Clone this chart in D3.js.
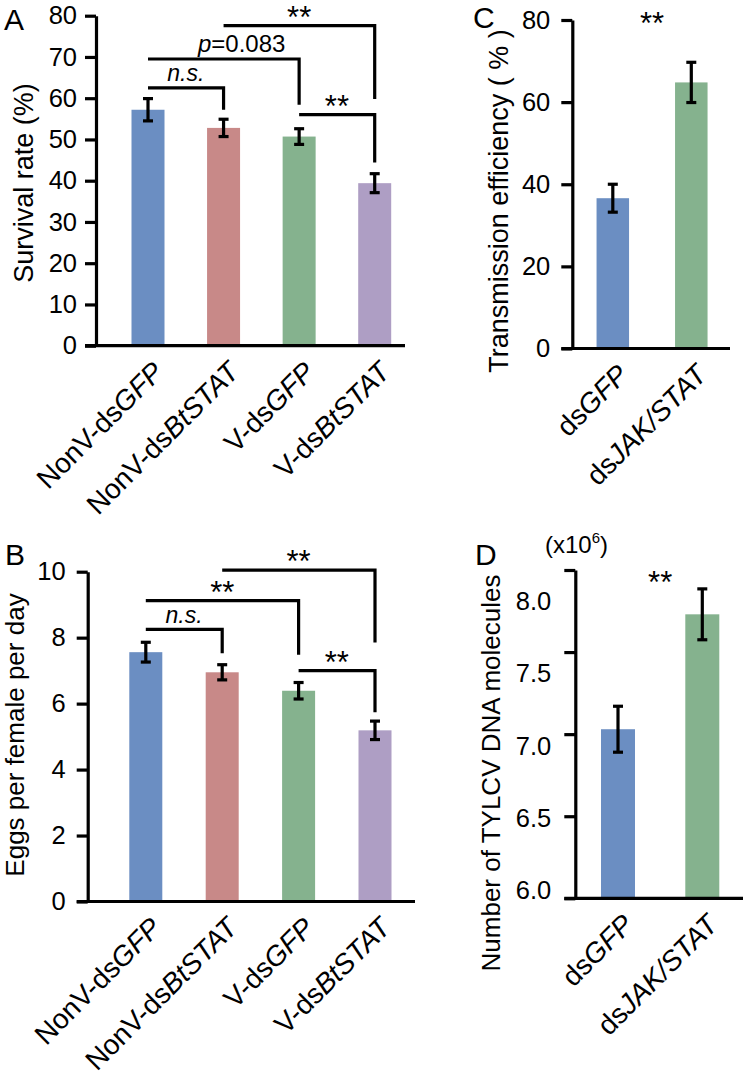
<!DOCTYPE html>
<html><head><meta charset="utf-8">
<script src="https://cdn.jsdelivr.net/npm/d3@7"></script>
<style>
body{margin:0;background:#fff}
svg{display:block}
text{font-family:"Liberation Sans",Arial,Helvetica,sans-serif;fill:#000}
</style>
</head><body>
<svg id="chart" width="748" height="1078"></svg>
<script>
// ---------- data ----------
const groupCats = ["NonV-dsGFP", "NonV-dsBtSTAT", "V-dsGFP", "V-dsBtSTAT"];
const survival = [57.2, 52.8, 50.7, 39.4];
const survivalErr = [2.7, 2.1, 1.9, 2.3];
const survivalTicks = [0, 10, 20, 30, 40, 50, 60, 70, 80];

const eggs = [7.56, 6.95, 6.39, 5.19];
const eggsErr = [0.30, 0.23, 0.25, 0.28];
const eggTicks = [0, 2, 4, 6, 8, 10];

const rnaiCats = ["dsGFP", "dsJAK/STAT"];
const transmission = [36.6, 64.8];
const transmissionErr = [3.4, 4.9];
const transTicks = [0, 20, 40, 60, 80];

const tylcv = [7.03, 7.73];
const tylcvErr = [0.14, 0.155];
const tylcvTicks = [6.0, 6.5, 7.0, 7.5, 8.0];

// brackets: [fromIndex, toIndex, level value, right-drop value, label]
const survivalBrackets = [
  [0, 1, 62.5, 57.2, "n.s."],
  [0, 2, 69.5, 58.4, "p=0.083"],
  [1, 3, 77.6, 59.8, "**"],
  [2, 3, 56.0, 44.4, "**"]
];
const eggBrackets = [
  [0, 1, 8.25, 7.53, "n.s."],
  [0, 2, 9.12, 7.48, "**"],
  [1, 3, 10.05, 7.85, "**"],
  [2, 3, 7.00, 5.74, "**"]
];

const colors4 = ["#6b8ec2", "#c88988", "#85b28e", "#ae9ec4"];
const colors2 = ["#6b8ec2", "#85b28e"];

// ---------- drawing ----------
const svg = d3.select("#chart");
const SW = 3.2;

function splitLabel(s) {
  const i = s.indexOf("ds") + 2;
  return [s.slice(0, i), s.slice(i)];
}

function panel(c) {
  const g = svg.append("g");
  const y = d3.scaleLinear().domain(c.domain).range(c.yRange);
  const x = d3.scalePoint().domain(c.cats).range(c.xRange);

  // bars
  g.selectAll("rect.bar").data(c.vals).join("rect")
    .attr("x", (d, i) => x(c.cats[i]) - c.bw / 2)
    .attr("y", d => y(d))
    .attr("width", c.bw)
    .attr("height", d => y(c.domain[0]) - y(d))
    .attr("fill", (d, i) => c.colors[i]);

  // error bars
  const eb = g.selectAll("g.err").data(c.vals).join("g")
    .attr("stroke", "#000").attr("stroke-width", SW).attr("fill", "none");
  eb.append("line")
    .attr("x1", (d, i) => x(c.cats[i])).attr("x2", (d, i) => x(c.cats[i]))
    .attr("y1", (d, i) => y(d + c.errs[i])).attr("y2", (d, i) => y(d - c.errs[i]));
  [1, -1].forEach(s => {
    eb.append("line")
      .attr("x1", (d, i) => x(c.cats[i]) - 5).attr("x2", (d, i) => x(c.cats[i]) + 5)
      .attr("y1", (d, i) => y(d + s * c.errs[i])).attr("y2", (d, i) => y(d + s * c.errs[i]));
  });

  // y axis
  const ax = g.append("g").attr("transform", `translate(${c.axisX},0)`)
    .call(d3.axisLeft(y).tickValues(c.ticks).tickSize(11).tickSizeOuter(0)
      .tickPadding(c.tickPad).tickFormat(c.fmt));
  ax.select(".domain").attr("stroke", "#000").attr("stroke-width", SW);
  ax.selectAll(".tick line").attr("stroke", "#000").attr("stroke-width", SW);
  ax.selectAll(".tick text").attr("font-size", 25.5)
    .attr("font-family", '"Liberation Sans",Arial,sans-serif').attr("fill", "#000");
  if (c.labelY) {
    ax.selectAll(".tick text").attr("y", d => c.labelY(d) - y(d));
  }

  // x axis line
  g.append("line")
    .attr("x1", c.axisX - 11).attr("x2", c.xEnd)
    .attr("y1", y(c.domain[0])).attr("y2", y(c.domain[0]))
    .attr("stroke", "#000").attr("stroke-width", SW);

  // x labels
  c.cats.forEach(cat => {
    const [a, b] = splitLabel(cat);
    const t = g.append("text")
      .attr("transform", `translate(${x(cat) + 17},${y(c.domain[0]) + 28}) rotate(-45)`)
      .attr("text-anchor", "end").attr("font-size", 28);
    t.append("tspan").text(a);
    t.append("tspan").attr("font-style", "italic").text(b);
  });

  // y title
  g.append("text")
    .attr("transform", `translate(${c.titleX},${c.titleY}) rotate(-90)`)
    .attr("text-anchor", "middle").attr("font-size", c.titleSize)
    .text(c.title);

  // panel letter
  g.append("text").attr("x", c.letterX).attr("y", c.letterY)
    .attr("font-size", 30).text(c.letter);

  // brackets
  (c.brackets || []).forEach(([f, t2, lv, dr, lab]) => {
    const x1 = x(c.cats[f]), x2 = x(c.cats[t2]);
    g.append("path")
      .attr("d", `M${x1},${y(lv)}H${x2}V${y(dr)}`)
      .attr("fill", "none").attr("stroke", "#000").attr("stroke-width", SW);
    const isStar = lab === "**";
    const isP = lab.startsWith("p=");
    const lx = x1 + (x2 - x1) * (isP ? 0.62 : 0.5);
    const txt = g.append("text").attr("x", lx).attr("text-anchor", "middle");
    if (isStar) {
      txt.attr("y", y(lv) + 2).attr("font-size", 31).text(lab);
    } else if (isP) {
      txt.attr("y", y(lv) - 7.5).attr("font-size", 24);
      txt.append("tspan").attr("font-style", "italic").text("p");
      txt.append("tspan").text(lab.slice(1));
    } else {
      txt.attr("y", y(lv) - 6.5).attr("font-size", 23).attr("font-style", "italic").text(lab);
    }
  });

  // stand-alone significance stars
  if (c.star) {
    g.append("text").attr("x", d3.mean(c.xRange)).attr("y", y(c.starAt) + 2)
      .attr("text-anchor", "middle").attr("font-size", 31).text("**");
  }
  return {g, x, y};
}

// Panel A
panel({
  cats: groupCats, vals: survival, errs: survivalErr, colors: colors4,
  domain: [0, 80], yRange: [345.7, 15.7], xRange: [148, 374.7], bw: 33,
  ticks: survivalTicks, fmt: d3.format("d"), axisX: 96, xEnd: 405, tickPad: 8,
  title: "Survival rate (%)", titleX: 33, titleY: 183, titleSize: 27,
  letter: "A", letterX: 4, letterY: 30, brackets: survivalBrackets
});

// Panel B
panel({
  cats: groupCats, vals: eggs, errs: eggsErr, colors: colors4,
  domain: [0, 10], yRange: [901.5, 571.7], xRange: [145.8, 375], bw: 33,
  ticks: eggTicks, fmt: d3.format("d"), axisX: 87.7, xEnd: 415, tickPad: 11,
  title: "Eggs per female per day", titleX: 24, titleY: 735, titleSize: 26,
  letter: "B", letterX: 5, letterY: 565, brackets: eggBrackets
});

// Panel C
panel({
  cats: rnaiCats, vals: transmission, errs: transmissionErr, colors: colors2,
  domain: [0, 80], yRange: [348.5, 20], xRange: [612.8, 691.3], bw: 32.5,
  ticks: transTicks, fmt: d3.format("d"), axisX: 572.3, xEnd: 730, tickPad: 11,
  title: "Transmission efficiency ( % )", titleX: 508, titleY: 201, titleSize: 27,
  letter: "C", letterX: 473, letterY: 28, star: true, starAt: 77.0
});

// Panel D
const dLabelScale = d3.scaleLinear().domain([6, 8]).range([890, 601.7]);
panel({
  cats: rnaiCats, vals: tylcv, errs: tylcvErr, colors: colors2,
  domain: [6, 8], yRange: [898.3, 570], xRange: [618, 702.3], bw: 34,
  ticks: tylcvTicks, fmt: d3.format(".1f"), axisX: 575.3, xEnd: 743, tickPad: 13,
  labelY: dLabelScale,
  title: "Number of TYLCV DNA molecules", titleX: 500, titleY: 773, titleSize: 26,
  letter: "D", letterX: 475, letterY: 565, star: true, starAt: 7.87
});

// multiplier note for D
const note = svg.append("text").attr("x", 545).attr("y", 553).attr("font-size", 24);
note.append("tspan").text("(x10");
note.append("tspan").attr("font-size", 15).attr("dy", -10).text("6");
note.append("tspan").attr("dy", 10).text(")");
</script>
</body></html>
